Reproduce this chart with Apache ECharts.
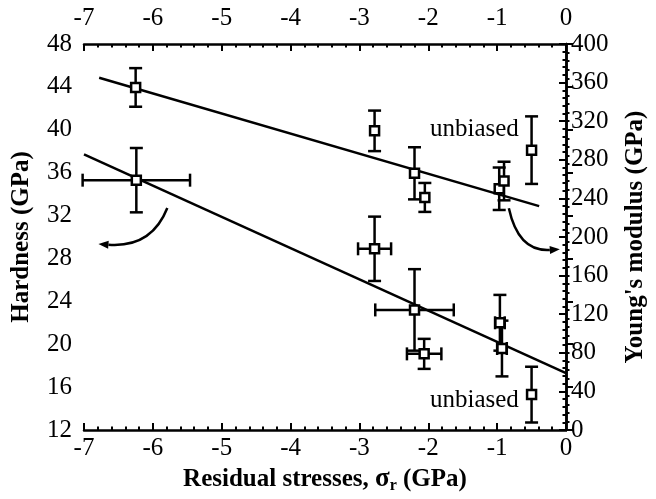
<!DOCTYPE html>
<html>
<head>
<meta charset="utf-8">
<script src="https://cdn.jsdelivr.net/npm/echarts@6/dist/echarts.min.js"></script>
<style>
  html, body { margin: 0; padding: 0; background: #fff; }
  #chart { width: 656px; height: 499px; }
</style>
</head>
<body>
<div id="chart"></div>
<script>
// hardness points (left axis)
const hardX = [-6.24, -2.78, -2.20, -2.06, -0.96, -0.93, -0.50];
const hardY = [35.3, 28.9, 23.2, 19.1, 22.0, 19.6, 15.3];
const hardErrY = [3.0, 3.0, 3.8, 1.4, 2.6, 2.6, 2.6];
const hardErrX = [0.78, 0.24, 0.57, 0.25, 0.07, 0.07, 0];

// Young's modulus points (right axis)
const modX = [-6.25, -2.78, -2.20, -2.05, -0.97, -0.90, -0.50];
const modY = [355, 310, 266, 241, 250, 258, 290];
const modErrY = [20, 21, 27, 15, 22, 20, 35];

// linear fits
const hardLineX = [-7, 0];
const hardLineY = [37.7, 17.3];
const modLineX = [-6.78, -0.39];
const modLineY = [365, 232];

// annotations, in x / hardness units
const labelPos = [[-1.33, 40.0], [-1.33, 14.8]];
const arrows = [
  [-5.79, 32.7, -6.02, 28.98, -6.79, 29.35],
  [-0.83, 32.68, -0.69, 28.6, -0.09, 28.86],
];

const FONT = "'Liberation Serif', 'Times New Roman', serif";
const chart = echarts.init(document.getElementById('chart'));

function errBars(params, api) {
  const x = api.value(0), y = api.value(1), ey = api.value(2), ex = api.value(3);
  const c = api.coord([x, y]);
  const top = api.coord([x, y + ey]);
  const bot = api.coord([x, y - ey]);
  const style = { stroke: '#000', lineWidth: 2.5 };
  const cap = 6.5;
  const kids = [
    { type: 'line', shape: { x1: c[0], y1: top[1], x2: c[0], y2: bot[1] }, style },
    { type: 'line', shape: { x1: c[0] - cap, y1: top[1], x2: c[0] + cap, y2: top[1] }, style },
    { type: 'line', shape: { x1: c[0] - cap, y1: bot[1], x2: c[0] + cap, y2: bot[1] }, style },
  ];
  if (ex > 0) {
    const l = api.coord([x - ex, y]);
    const r = api.coord([x + ex, y]);
    kids.push(
      { type: 'line', shape: { x1: l[0], y1: c[1], x2: r[0], y2: c[1] }, style },
      { type: 'line', shape: { x1: l[0], y1: c[1] - cap, x2: l[0], y2: c[1] + cap }, style },
      { type: 'line', shape: { x1: r[0], y1: c[1] - cap, x2: r[0], y2: c[1] + cap }, style }
    );
  }
  return { type: 'group', children: kids };
}

function arrow(params, api) {
  const p0 = api.coord([api.value(0), api.value(1)]);
  const pc = api.coord([api.value(2), api.value(3)]);
  const p1 = api.coord([api.value(4), api.value(5)]);
  const dx = p1[0] - pc[0], dy = p1[1] - pc[1];
  const len = Math.sqrt(dx * dx + dy * dy);
  const ux = dx / len, uy = dy / len;
  const hl = 10, hw = 4;
  const bx = p1[0] - ux * hl, by = p1[1] - uy * hl;
  return {
    type: 'group',
    children: [
      {
        type: 'bezierCurve',
        shape: { x1: p0[0], y1: p0[1], x2: bx, y2: by, cpx1: pc[0], cpy1: pc[1] },
        style: { stroke: '#000', lineWidth: 2.5, fill: null },
      },
      {
        type: 'polygon',
        shape: { points: [p1, [bx - uy * hw, by + ux * hw], [bx + uy * hw, by - ux * hw]] },
        style: { fill: '#000' },
      },
    ],
  };
}

const tickCommon = {
  axisLine: { show: true, lineStyle: { color: '#000', width: 2.5 } },
  axisTick: { show: true, inside: true, length: 7, lineStyle: { color: '#000', width: 2 } },
  minorTick: { show: true, splitNumber: 5, length: 3.5, lineStyle: { color: '#000', width: 2 } },
  splitLine: { show: false },
};

const symbolOpts = {
  symbol: 'rect',
  symbolSize: 9,
  itemStyle: { color: '#fff', borderColor: '#000', borderWidth: 2.5, opacity: 1 },
  emphasis: { disabled: true },
  z: 5,
};

chart.setOption({
  animation: false,
  backgroundColor: '#fff',
  textStyle: { fontFamily: FONT },
  grid: { left: 84, right: 88, top: 44, bottom: 69 },
  xAxis: [
    Object.assign({
      type: 'value', min: -7, max: 0, interval: 1, position: 'bottom',
      name: '{a|Residual stresses, }{s|σ}{r|r}{a| (GPa)}',
      nameLocation: 'middle', nameGap: 34,
      nameTextStyle: {
        rich: {
          a: { fontFamily: FONT, fontSize: 25, fontWeight: 'bold', color: '#000' },
          s: { fontFamily: FONT, fontSize: 27, fontWeight: 'bold', color: '#000' },
          r: { fontFamily: FONT, fontSize: 16, fontWeight: 'bold', color: '#000', verticalAlign: 'bottom', padding: [12, 0, 0, 0] },
        },
      },
      axisLabel: { fontFamily: FONT, fontSize: 25, color: '#000', margin: 6 },
    }, tickCommon),
    Object.assign({
      type: 'value', min: -7, max: 0, interval: 1, position: 'top',
      axisLabel: { fontFamily: FONT, fontSize: 25, color: '#000', margin: 13 },
    }, tickCommon),
  ],
  yAxis: [
    Object.assign({
      type: 'value', min: 12, max: 48, interval: 4, position: 'left',
      name: 'Hardness (GPa)', nameLocation: 'middle', nameGap: 50,
      nameTextStyle: { fontFamily: FONT, fontSize: 25, fontWeight: 'bold', color: '#000' },
      axisLabel: { fontFamily: FONT, fontSize: 25, color: '#000', margin: 12 },
    }, tickCommon),
    Object.assign({
      type: 'value', min: 0, max: 400, interval: 40, position: 'right',
      name: "Young's modulus (GPa)", nameLocation: 'middle', nameGap: 57,
      nameTextStyle: { fontFamily: FONT, fontSize: 25, fontWeight: 'bold', color: '#000' },
      axisLabel: { fontFamily: FONT, fontSize: 25, color: '#000', margin: 5 },
    }, tickCommon),
  ],
  series: [
    {
      type: 'line', xAxisIndex: 0, yAxisIndex: 0, symbol: 'none',
      lineStyle: { color: '#000', width: 2.5 },
      data: hardLineX.map((x, i) => [x, hardLineY[i]]), z: 2,
    },
    {
      type: 'line', xAxisIndex: 0, yAxisIndex: 1, symbol: 'none',
      lineStyle: { color: '#000', width: 2.5 },
      data: modLineX.map((x, i) => [x, modLineY[i]]), z: 2,
    },
    {
      type: 'custom', xAxisIndex: 0, yAxisIndex: 0, renderItem: errBars, z: 3,
      encode: { x: 0, y: 1 },
      data: hardX.map((x, i) => [x, hardY[i], hardErrY[i], hardErrX[i]]),
    },
    {
      type: 'custom', xAxisIndex: 0, yAxisIndex: 1, renderItem: errBars, z: 3,
      encode: { x: 0, y: 1 },
      data: modX.map((x, i) => [x, modY[i], modErrY[i], 0]),
    },
    Object.assign({
      type: 'scatter', xAxisIndex: 0, yAxisIndex: 0,
      data: hardX.map((x, i) => [x, hardY[i]]),
    }, symbolOpts),
    Object.assign({
      type: 'scatter', xAxisIndex: 0, yAxisIndex: 1,
      data: modX.map((x, i) => [x, modY[i]]),
    }, symbolOpts),
    {
      type: 'custom', xAxisIndex: 0, yAxisIndex: 0, renderItem: arrow, z: 4,
      encode: { x: 0, y: 1 },
      data: arrows,
    },
    {
      type: 'scatter', xAxisIndex: 0, yAxisIndex: 0, symbolSize: 0, z: 6,
      data: labelPos,
      itemStyle: { opacity: 1 },
      emphasis: { disabled: true },
      label: {
        show: true, position: 'inside', formatter: 'unbiased',
        fontFamily: FONT, fontSize: 25, color: '#000', opacity: 1,
      },
    },
  ],
});
</script>
</body>
</html>
